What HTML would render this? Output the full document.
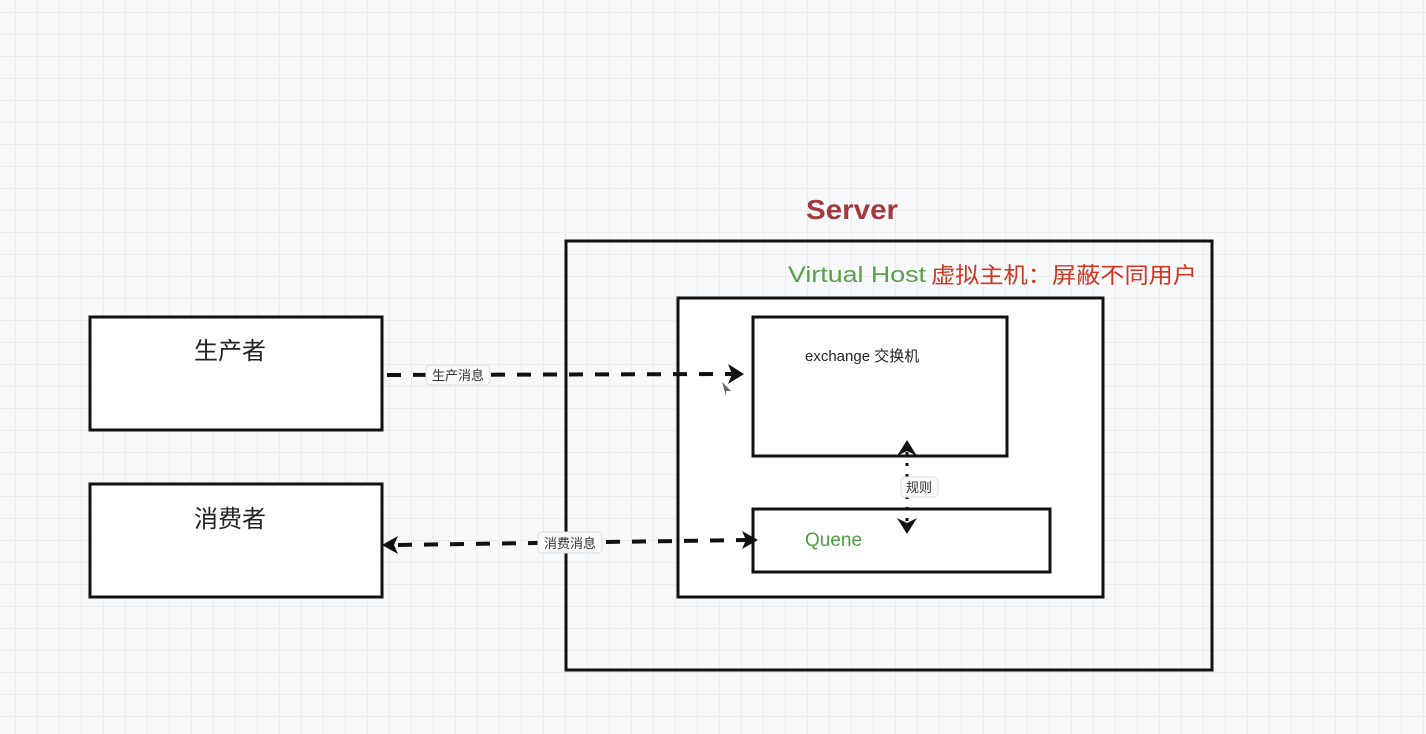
<!DOCTYPE html>
<html><head><meta charset="utf-8"><style>
html,body{margin:0;padding:0;width:1426px;height:734px;overflow:hidden;background:#f8f9fa}
svg{display:block}
text{font-family:"Liberation Sans","Noto Sans CJK SC",sans-serif}
</style></head><body>
<svg width="1426" height="734" xmlns="http://www.w3.org/2000/svg">
<defs>
<pattern id="g" x="15" y="12" width="22" height="22" patternUnits="userSpaceOnUse">
<path d="M0 0H22M0 0V22" stroke="#ebeced" stroke-width="2" fill="none"/>
</pattern>
</defs>
<rect width="1426" height="734" fill="url(#g)"/>
<!-- server -->
<rect x="566" y="241" width="646" height="429" fill="none" stroke="#111" stroke-width="3"/>
<text x="806" y="219" font-size="28" font-weight="bold" fill="#a33a3f" textLength="92" lengthAdjust="spacingAndGlyphs">Server</text>
<rect x="678" y="298" width="425" height="299" fill="#fff" stroke="#111" stroke-width="3"/>
<text x="788" y="282" font-size="22" fill="#5aa04a" textLength="138" lengthAdjust="spacingAndGlyphs">Virtual Host</text>
<text x="931" y="283" font-size="22" fill="#d0351f" textLength="266" lengthAdjust="spacingAndGlyphs">虚拟主机：屏蔽不同用户</text>
<rect x="753" y="317" width="254" height="139" fill="#fff" stroke="#111" stroke-width="3"/>
<text x="805" y="361" font-size="15" fill="#222">exchange 交换机</text>
<rect x="753" y="509" width="297" height="63" fill="#fff" stroke="#111" stroke-width="3"/>
<text x="805" y="546" font-size="19" fill="#4aa040">Quene</text>
<!-- producer/consumer -->
<rect x="90" y="317" width="292" height="113" fill="#fff" stroke="#111" stroke-width="3"/>
<text x="230" y="359" font-size="24" fill="#222" text-anchor="middle">生产者</text>
<rect x="90" y="484" width="292" height="113" fill="#fff" stroke="#111" stroke-width="3"/>
<text x="230" y="527" font-size="24" fill="#222" text-anchor="middle">消费者</text>
<!-- arrows -->
<line x1="387" y1="375" x2="734" y2="374" stroke="#111" stroke-width="4" stroke-dasharray="14,12"/>
<path d="M744 374L728 364L732 374L728 384Z" fill="#111"/>
<rect x="426" y="365" width="64" height="20" rx="4" fill="#fafafa" stroke="#ddd"/>
<text x="458" y="380" font-size="13" fill="#333" text-anchor="middle">生产消息</text>
<line x1="398" y1="545" x2="746" y2="540" stroke="#111" stroke-width="4" stroke-dasharray="14,12"/>
<path d="M758 540L742 531L746 540L742 549Z" fill="#111"/>
<path d="M382 545L398 536L394 545L398 554Z" fill="#111"/>
<rect x="538" y="532" width="64" height="21" rx="4" fill="#fafafa" stroke="#ddd"/>
<text x="570" y="548" font-size="13" fill="#333" text-anchor="middle">消费消息</text>
<line x1="907" y1="452" x2="907" y2="524" stroke="#111" stroke-width="3" stroke-dasharray="3,8"/>
<path d="M897 456L907 440L917 456L907 451Z" fill="#111"/>
<path d="M897 518L907 534L917 518L907 523Z" fill="#111"/>
<rect x="901" y="477" width="37" height="20" rx="4" fill="#fafafa" stroke="#ddd"/>
<text x="919" y="492" font-size="13" fill="#333" text-anchor="middle">规则</text>
<path d="M722 382L731 391L726 391L726 396Z" fill="#666"/>
</svg>
</body></html>
